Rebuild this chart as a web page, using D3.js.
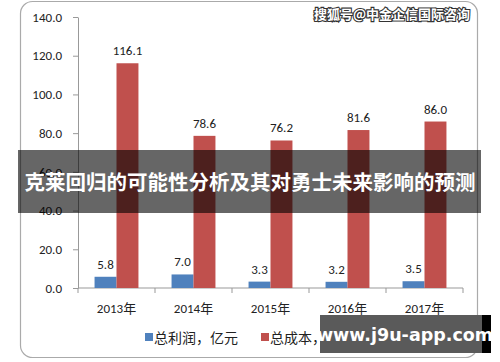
<!DOCTYPE html>
<meta charset="utf-8">
<html>
<style>
  body { margin: 0; background: #fff; }
  text { font-family: Calibri, Carlito, "Liberation Sans", "Noto Sans CJK SC", sans-serif; }
</style>
<div id="chartContainer"></div>
<script src="https://cdn.jsdelivr.net/npm/d3@7"></script>
<script type="text/javascript">
  var years = ["2013年", "2014年", "2015年", "2016年", "2017年"];
  var profit = [5.8, 7.0, 3.3, 3.2, 3.5];
  var cost = [116.1, 78.6, 76.2, 81.6, 86.0];
  var yTicks = [0, 20, 40, 60, 80, 100, 120, 140];
  var seriesNames = ["总利润，亿元", "总成本，亿元"];
  var colors = ["#4F81BD", "#C0504D"];

  var svg = d3.select("#chartContainer").append("svg")
    .attr("width", 500).attr("height", 362);

  // outer frame
  svg.append("rect")
    .attr("x", 20.5).attr("y", 1.5).attr("width", 457).attr("height", 356)
    .attr("rx", 12).attr("fill", "#fff").attr("stroke", "#aaa").attr("stroke-width", 1.2);

  var x = d3.scaleBand().domain(years).range([78, 463]).paddingInner(0.43).paddingOuter(0.215);
  var y = d3.scaleLinear().domain([0, 140]).range([288, 17]);

  // y axis
  var yAxis = svg.append("g").attr("transform", "translate(78,0)")
    .call(d3.axisLeft(y).tickValues(yTicks).tickFormat(d3.format(".1f")).tickSize(5).tickSizeOuter(0));
  yAxis.select(".domain").attr("stroke", "#999");
  yAxis.selectAll(".tick line").attr("stroke", "#999");
  yAxis.selectAll("text").attr("font-size", 13).attr("fill", "#222").attr("x", -16);

  // x axis
  var xAxis = svg.append("g").attr("transform", "translate(0,288)");
  xAxis.append("line").attr("x1", 78).attr("x2", 463).attr("stroke", "#999");
  var bounds = d3.range(years.length + 1).map(function (i) { return 78 + i * (385 / years.length); });
  xAxis.selectAll("line.tk").data(bounds).enter().append("line")
    .attr("class", "tk").attr("x1", function (d) { return d; }).attr("x2", function (d) { return d; })
    .attr("y1", 0).attr("y2", 5).attr("stroke", "#999");
  xAxis.selectAll("text").data(years).enter().append("text")
    .attr("x", function (d) { return x(d) + x.bandwidth() / 2; })
    .attr("y", 25).attr("text-anchor", "middle").attr("font-size", 13).attr("fill", "#222")
    .text(function (d) { return d; });

  var bw = x.bandwidth() / 2;
  [profit, cost].forEach(function (vals, s) {
    var g = svg.append("g");
    g.selectAll("rect").data(vals).enter().append("rect")
      .attr("x", function (d, i) { return x(years[i]) + s * bw; })
      .attr("y", function (d) { return y(d); })
      .attr("width", bw)
      .attr("height", function (d) { return y(0) - y(d); })
      .attr("fill", colors[s]);
    g.selectAll("text").data(vals).enter().append("text")
      .attr("x", function (d, i) { return x(years[i]) + s * bw + bw / 2; })
      .attr("y", function (d) { return y(d) - 8; })
      .attr("text-anchor", "middle").attr("font-size", 13).attr("fill", "#222")
      .text(function (d) { return d.toFixed(1); });
  });

  // legend
  var legX = [145, 261];
  seriesNames.forEach(function (n, i) {
    svg.append("rect").attr("x", legX[i]).attr("y", 333).attr("width", 8).attr("height", 8).attr("fill", colors[i]);
    svg.append("text").attr("x", legX[i] + 9).attr("y", 343).attr("font-size", 14).attr("fill", "#222").text(n);
  });

  // watermark top right
  svg.append("text").attr("x", 470).attr("y", 19).attr("text-anchor", "end")
    .attr("font-size", 13).attr("font-weight", "bold").attr("fill", "#fff")
    .attr("stroke", "#333").attr("stroke-width", 2.2).attr("paint-order", "stroke")
    .style("font-family", "'Noto Sans CJK SC', sans-serif")
    .text("搜狐号@中金企信国际咨询");

  // title banner
  svg.append("rect").attr("x", 18).attr("y", 150).attr("width", 463).attr("height", 63)
    .attr("fill", "#000").attr("opacity", 0.6);
  svg.append("text").attr("x", 250).attr("y", 190).attr("text-anchor", "middle")
    .attr("font-size", 20.5).attr("font-weight", "bold").attr("fill", "#fff")
    .style("font-family", "'Noto Sans CJK SC', sans-serif")
    .text("克莱回归的可能性分析及其对勇士未来影响的预测");

  // bottom right url box
  svg.append("rect").attr("x", 320).attr("y", 315).attr("width", 171).attr("height", 38).attr("fill", "#000");
  svg.append("rect").attr("x", 320).attr("y", 315).attr("width", 162).attr("height", 38).attr("fill", "#5a5a5a");
  svg.append("text").attr("x", 405).attr("y", 341).attr("text-anchor", "middle")
    .attr("font-size", 17.5).attr("font-weight", "bold").attr("fill", "#fff")
    .style("font-family", "'DejaVu Sans', sans-serif")
    .text("www.j9u-app.com");
</script>
</html>
